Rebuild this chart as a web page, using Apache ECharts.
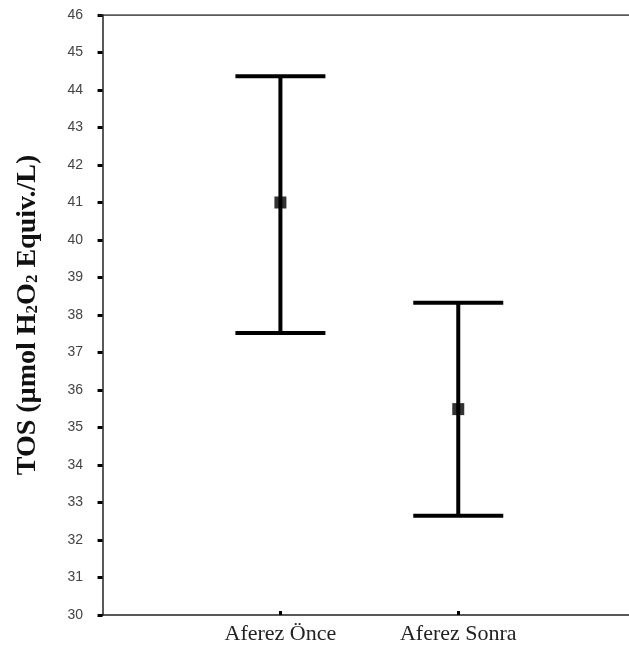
<!DOCTYPE html>
<html>
<head>
<meta charset="utf-8">
<script src="https://cdn.jsdelivr.net/npm/echarts@6/dist/echarts.min.js"></script>
<style>
  html, body { margin: 0; padding: 0; background: #fff; }
  #chart { width: 629px; height: 650px; }
</style>
</head>
<body>
<div id="chart"></div>
<script>
var categories = ['Aferez Önce', 'Aferez Sonra'];
var catPos = [1, 2];
var means = [41.0, 35.49];
var upper = [44.37, 38.33];
var lower = [37.52, 32.65];
var yTicks = [30, 31, 32, 33, 34, 35, 36, 37, 38, 39, 40, 41, 42, 43, 44, 45, 46];

var barData = [];
var meanData = [];
for (var i = 0; i < categories.length; i++) {
  barData.push([catPos[i], lower[i], upper[i]]);
  meanData.push([catPos[i], means[i]]);
}

var chart = echarts.init(document.getElementById('chart'));
chart.setOption({
  animation: false,
  grid: { left: 99, top: 15, right: 0, bottom: 35 },
  xAxis: {
    type: 'value',
    min: -0.02,
    max: 2.96,
    splitLine: { show: false },
    axisLine: { lineStyle: { color: '#222', width: 1.5 } },
    axisTick: { inside: true, length: 4, customValues: catPos, lineStyle: { color: '#000', width: 3 } },
    axisLabel: {
      customValues: catPos,
      margin: 8,
      fontFamily: 'Liberation Serif',
      fontSize: 22,
      color: '#222',
      formatter: function (v) { return categories[catPos.indexOf(v)] || ''; }
    }
  },
  yAxis: {
    type: 'value',
    min: yTicks[0],
    max: yTicks[yTicks.length - 1],
    interval: 1,
    splitLine: { show: false },
    axisLine: { show: true, lineStyle: { color: '#222', width: 1.5 } },
    axisTick: { length: 5, lineStyle: { color: '#000', width: 3 } },
    axisLabel: { margin: 16, fontFamily: 'Liberation Sans', fontSize: 14, color: '#444' },
    name: '{b|TOS (µmol H}{s|2}{b|O}{s|2}{b| Equiv./L)}',
    nameLocation: 'middle',
    nameGap: 57,
    nameTextStyle: {
      rich: {
        b: { fontFamily: 'Liberation Serif', fontWeight: 'bold', fontSize: 28, color: '#111' },
        s: { fontFamily: 'Liberation Serif', fontWeight: 'bold', fontSize: 17, color: '#111', padding: [10, 0, 0, 0] }
      }
    }
  },
  series: [{
    type: 'custom',
    data: barData,
    renderItem: function (params, api) {
      var x = api.value(0);
      var lo = api.coord([x, api.value(1)]);
      var hi = api.coord([x, api.value(2)]);
      var half = 45;
      var style = { stroke: '#000', lineWidth: 4 };
      return {
        type: 'group',
        children: [
          { type: 'line', shape: { x1: hi[0], y1: hi[1], x2: lo[0], y2: lo[1] }, style: style },
          { type: 'line', shape: { x1: hi[0] - half, y1: hi[1], x2: hi[0] + half, y2: hi[1] }, style: style },
          { type: 'line', shape: { x1: lo[0] - half, y1: lo[1], x2: lo[0] + half, y2: lo[1] }, style: style }
        ]
      };
    },
    z: 2
  }, {
    type: 'scatter',
    data: meanData,
    symbol: 'rect',
    symbolSize: 12,
    itemStyle: { color: '#000' },
    z: 3
  }, {
    // top border of the plot area
    type: 'line',
    data: [[-0.02, 46], [2.96, 46]],
    symbol: 'none',
    lineStyle: { color: '#222', width: 1.5 },
    silent: true
  }]
});
</script>
</body>
</html>
